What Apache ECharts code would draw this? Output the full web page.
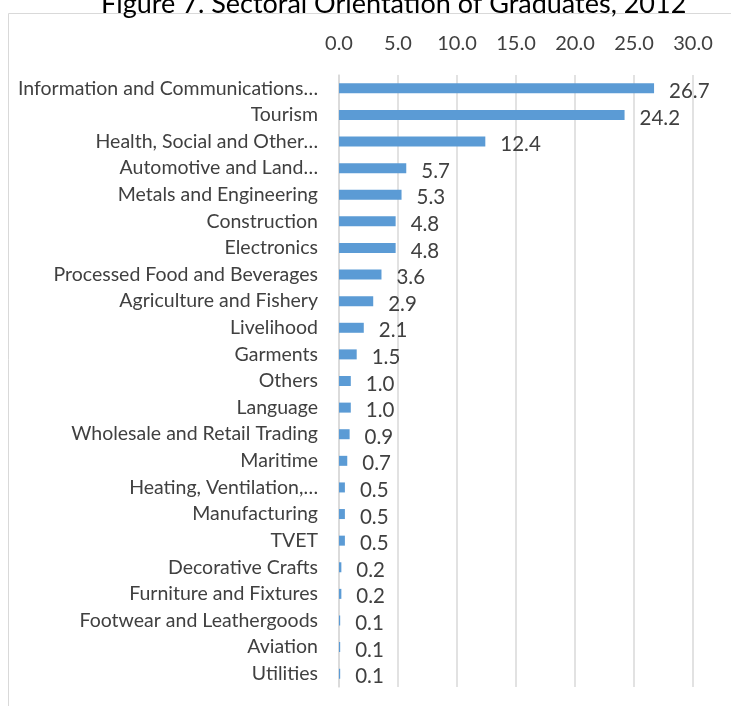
<!DOCTYPE html>
<html><head><meta charset="utf-8">
<script src="https://cdn.jsdelivr.net/npm/echarts@6/dist/echarts.min.js"></script>
<style>html,body{margin:0;padding:0;background:#fff}#c{width:731px;height:706px}</style>
</head><body><div id="c"></div>
<script>
const categories = ["Information and Communications…","Tourism","Health, Social and Other…","Automotive and Land…","Metals and Engineering","Construction","Electronics","Processed Food and Beverages","Agriculture and Fishery","Livelihood","Garments","Others","Language","Wholesale and Retail Trading","Maritime","Heating, Ventilation,…","Manufacturing","TVET","Decorative Crafts","Furniture and Fixtures","Footwear and Leathergoods","Aviation","Utilities"];
const values = [26.7,24.2,12.4,5.7,5.3,4.8,4.8,3.6,2.9,2.1,1.5,1.0,1.0,0.9,0.7,0.5,0.5,0.5,0.2,0.2,0.1,0.1,0.1];
const titleText = "Figure 7. Sectoral Orientation of Graduates, 2012";
const chart = echarts.init(document.getElementById('c'));
chart.setOption({
  animation:false,
  textStyle:{fontFamily:'Lato'},
  title:{text:titleText,left:96,top:-14,textStyle:{fontFamily:'Lato',fontSize:27,fontWeight:'normal',color:'#000'}},
  graphic:[{type:'polyline',shape:{points:[[8.5,706],[8.5,13.5],[731,13.5]]},style:{stroke:'#d9d9d9',lineWidth:1,fill:null}}],
  grid:{left:339,right:38,top:75,bottom:19},
  xAxis:{type:'value',position:'top',min:0,max:30,interval:5,
    axisLine:{show:false},axisTick:{show:false},
    axisLabel:{margin:21,fontSize:20,color:'#404040',formatter:v=>v.toFixed(1)},
    splitLine:{lineStyle:{color:'#d9d9d9',width:1.5}}},
  yAxis:{type:'category',data:categories,inverse:true,
    axisLine:{lineStyle:{color:'#d9d9d9',width:1.5}},axisTick:{show:false},
    axisLabel:{margin:21,fontSize:19.5,color:'#404040'}},
  series:[{type:'bar',data:values,barWidth:10,
    itemStyle:{color:'#5b9bd5'},
    label:{show:true,position:'right',distance:15,offset:[0,3],fontSize:20.5,color:'#404040',formatter:p=>p.value.toFixed(1)}}]
});
</script></body></html>
